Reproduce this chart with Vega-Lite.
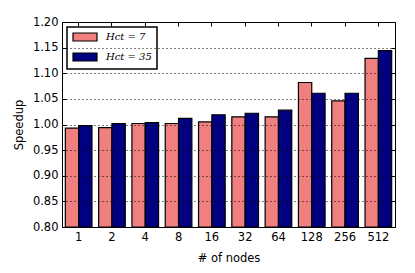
{
  "$schema": "https://vega.github.io/schema/vega-lite/v6.json",
  "autosize": "none",
  "width": 333,
  "height": 205,
  "padding": {"left": 62, "top": 22, "right": 20, "bottom": 46},
  "background": "white",
  "config": {
    "view": {"stroke": "black", "strokeWidth": 1},
    "font": "DejaVu Sans",
    "axis": {"labelFont": "DejaVu Sans", "titleFont": "DejaVu Sans", "labelColor": "black", "titleColor": "black", "labelFontSize": 11.5, "titleFontSize": 11.5, "titleFontWeight": "normal", "tickColor": "black", "domain": false}
  },
  "data": {"values": [
    {"nodes": "1", "hct": "Hct = 7", "speedup": 0.993},
    {"nodes": "1", "hct": "Hct = 35", "speedup": 0.998},
    {"nodes": "2", "hct": "Hct = 7", "speedup": 0.994},
    {"nodes": "2", "hct": "Hct = 35", "speedup": 1.002},
    {"nodes": "4", "hct": "Hct = 7", "speedup": 1.002},
    {"nodes": "4", "hct": "Hct = 35", "speedup": 1.0035},
    {"nodes": "8", "hct": "Hct = 7", "speedup": 1.002},
    {"nodes": "8", "hct": "Hct = 35", "speedup": 1.012},
    {"nodes": "16", "hct": "Hct = 7", "speedup": 1.005},
    {"nodes": "16", "hct": "Hct = 35", "speedup": 1.019},
    {"nodes": "32", "hct": "Hct = 7", "speedup": 1.015},
    {"nodes": "32", "hct": "Hct = 35", "speedup": 1.022},
    {"nodes": "64", "hct": "Hct = 7", "speedup": 1.015},
    {"nodes": "64", "hct": "Hct = 35", "speedup": 1.028},
    {"nodes": "128", "hct": "Hct = 7", "speedup": 1.082},
    {"nodes": "128", "hct": "Hct = 35", "speedup": 1.061},
    {"nodes": "256", "hct": "Hct = 7", "speedup": 1.046},
    {"nodes": "256", "hct": "Hct = 35", "speedup": 1.061},
    {"nodes": "512", "hct": "Hct = 7", "speedup": 1.129},
    {"nodes": "512", "hct": "Hct = 35", "speedup": 1.144}
  ]},
  "layer": [
    {
      "mark": {"type": "bar", "stroke": "black", "strokeWidth": 1.2},
      "encoding": {
        "x": {"field": "nodes", "type": "ordinal", "sort": null,
              "scale": {"paddingInner": 0.2, "paddingOuter": 0.1},
              "axis": {"title": "# of nodes", "labelAngle": 0, "tickSize": -4, "labelPadding": 8, "titlePadding": 10}},
        "xOffset": {"field": "hct", "type": "nominal", "sort": ["Hct = 7", "Hct = 35"], "scale": {"paddingInner": 0, "paddingOuter": 0}},
        "y": {"field": "speedup", "type": "quantitative",
              "scale": {"domain": [0.8, 1.2], "nice": false, "zero": false},
              "axis": {"title": "Speedup", "values": [0.8, 0.85, 0.9, 0.95, 1.0, 1.05, 1.1, 1.15, 1.2], "format": ".2f", "tickSize": -4, "labelPadding": 8, "titlePadding": 8,
                       "grid": true, "gridColor": "black", "gridDash": [1, 3], "gridWidth": 1, "zindex": 1}},
        "y2": {"datum": 0.8},
        "color": {"field": "hct", "type": "nominal", "sort": ["Hct = 7", "Hct = 35"],
                  "scale": {"domain": ["Hct = 7", "Hct = 35"], "range": ["#F08080", "#000080"]},
                  "legend": {"title": null, "orient": "top-left", "offset": 5,
                             "fillColor": "white", "strokeColor": "black", "padding": 5,
                             "symbolType": "M-1,-1H5V1H-1Z", "symbolSize": 64,
                             "symbolStrokeColor": "black", "symbolStrokeWidth": 1.2,
                             "labelFont": "DejaVu Serif", "labelFontStyle": "italic", "labelFontSize": 10, "labelOffset": 24, "labelColor": "black", "rowPadding": 6,
                             "encode": {"legend": {"update": {"strokeWidth": {"value": 1.5}}}}}}
      }
    },
    {
      "mark": {"type": "bar", "opacity": 0},
      "encoding": {
        "x": {"field": "nodes", "type": "ordinal", "sort": null,
              "axis": {"title": null, "labels": false, "tickSize": -4, "orient": "top"}},
        "y": {"field": "speedup", "type": "quantitative",
              "axis": {"title": null, "labels": false, "values": [0.8, 0.85, 0.9, 0.95, 1.0, 1.05, 1.1, 1.15, 1.2], "tickSize": -4, "orient": "right"}},
        "y2": {"datum": 0.8}
      }
    }
  ],
  "resolve": {"axis": {"x": "independent", "y": "independent"}}
}
